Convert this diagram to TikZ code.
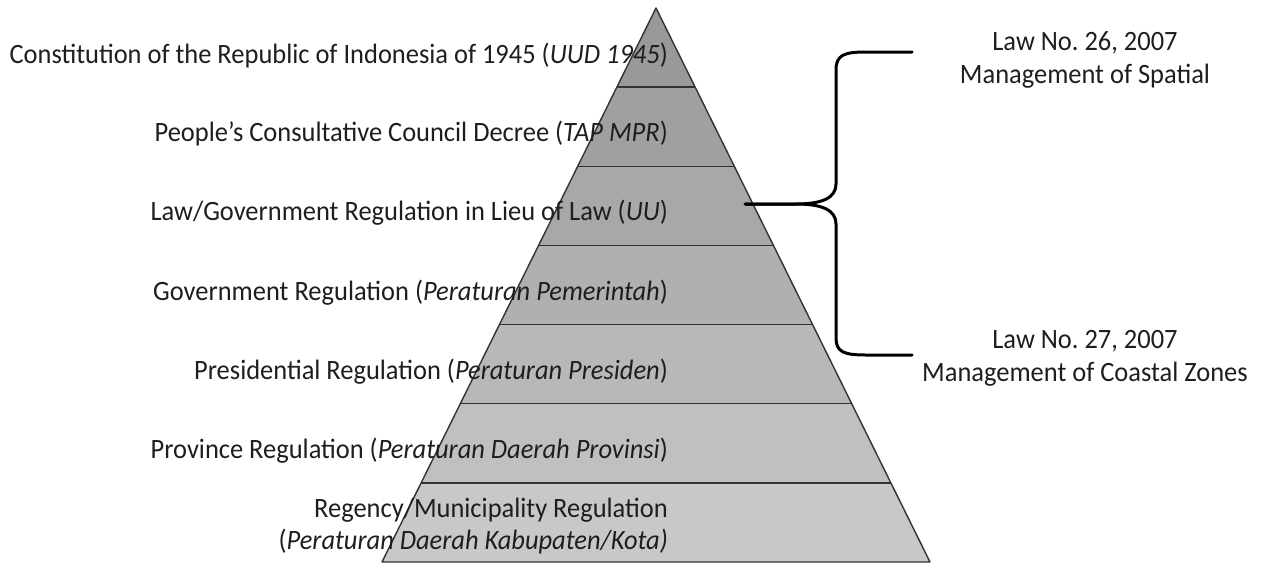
\documentclass[tikz,border=0pt]{standalone}
\usepackage{fontspec}
\setmainfont{Carlito}[FakeStretch=0.945]
\usetikzlibrary{calc}

\definecolor{band1}{RGB}{153,153,153}
\definecolor{band2}{RGB}{160,160,160}
\definecolor{band3}{RGB}{168,168,168}
\definecolor{band4}{RGB}{176,176,176}
\definecolor{band5}{RGB}{184,184,184}
\definecolor{band6}{RGB}{192,192,192}
\definecolor{band7}{RGB}{200,200,200}
\definecolor{ink}{RGB}{30,30,30}

\frenchspacing

\begin{document}
\begin{tikzpicture}[x=1pt,y=-1pt,
  lvl/.style={inner sep=0pt,text=ink,font=\fontsize{28}{32}\selectfont},
  law/.style={align=center,inner sep=0pt,text=ink,font=\fontsize{28}{33}\selectfont},
  sep/.style={line width=1.4pt,draw=black!80},
  brace/.style={line width=3pt,line cap=round,line join=round}]
\useasboundingbox (0,0) rectangle (1261,563);

% pyramid corners and the level lines on its two sides
\coordinate (top) at (656,8);
\coordinate (bl) at (382,562);
\coordinate (br) at (930,562);
\coordinate (l1) at ($(top)!1/7!(bl)$);
\coordinate (l2) at ($(top)!2/7!(bl)$);
\coordinate (l3) at ($(top)!3/7!(bl)$);
\coordinate (l4) at ($(top)!4/7!(bl)$);
\coordinate (l5) at ($(top)!5/7!(bl)$);
\coordinate (l6) at ($(top)!6/7!(bl)$);
\coordinate (r1) at ($(top)!1/7!(br)$);
\coordinate (r2) at ($(top)!2/7!(br)$);
\coordinate (r3) at ($(top)!3/7!(br)$);
\coordinate (r4) at ($(top)!4/7!(br)$);
\coordinate (r5) at ($(top)!5/7!(br)$);
\coordinate (r6) at ($(top)!6/7!(br)$);

\fill[band1] (top) -- (l1) -- (r1) -- cycle;
\fill[band2] (l1) -- (l2) -- (r2) -- (r1) -- cycle;
\fill[band3] (l2) -- (l3) -- (r3) -- (r2) -- cycle;
\fill[band4] (l3) -- (l4) -- (r4) -- (r3) -- cycle;
\fill[band5] (l4) -- (l5) -- (r5) -- (r4) -- cycle;
\fill[band6] (l5) -- (l6) -- (r6) -- (r5) -- cycle;
\fill[band7] (l6) -- (bl) -- (br) -- (r6) -- cycle;

\draw[sep] (l1) -- (r1);
\draw[sep] (l2) -- (r2);
\draw[sep] (l3) -- (r3);
\draw[sep] (l4) -- (r4);
\draw[sep] (l5) -- (r5);
\draw[sep] (l6) -- (r6);
\draw[sep,line join=round] (top) -- (bl) -- (br) -- cycle;

% levels of the hierarchy
\node (uud) at (668,63) [lvl,anchor=base east] {Constitution of the Republic of Indonesia of 1945 (\textit{UUD 1945})};
\node (tap) at (668,141) [lvl,anchor=base east] {People’s Consultative Council Decree (\textit{TAP MPR})};
\node (uu) at (668,220) [lvl,anchor=base east] {Law/Government Regulation in Lieu of Law (\textit{UU})};
\node (pp) at (668,300) [lvl,anchor=base east] {Government Regulation (\textit{Peraturan Pemerintah})};
\node (perpres) at (668,379) [lvl,anchor=base east] {Presidential Regulation (\textit{Peraturan Presiden})};
\node (perdaprov) at (668,458) [lvl,anchor=base east] {Province Regulation (\textit{Peraturan Daerah Provinsi})};
\node (perdakab) at (668,526) [lvl,anchor=east,align=right] {Regency/Municipality Regulation\\(\textit{Peraturan Daerah Kabupaten/Kota)}};

% the two laws
\node (law26) at (1085,60) [law] {Law No. 26, 2007\\Management of Spatial};
\node (law27) at (1085,358) [law] {Law No. 27, 2007\\Management of Coastal Zones};

\coordinate (tip) at (745,204);
\coordinate (b26) at (912,52);
\coordinate (b27) at (912,355);
\draw[brace] (b26) -- (866,52) .. controls (844,52) and (836,55) .. (836,70)
  -- (836,184) .. controls (836,198) and (822,204) .. (796,204) -- (tip);
\draw[brace] (b27) -- (866,355) .. controls (844,355) and (836,352) .. (836,338)
  -- (836,224) .. controls (836,210) and (822,204) .. (796,204) -- (tip);

\end{tikzpicture}
\end{document}
